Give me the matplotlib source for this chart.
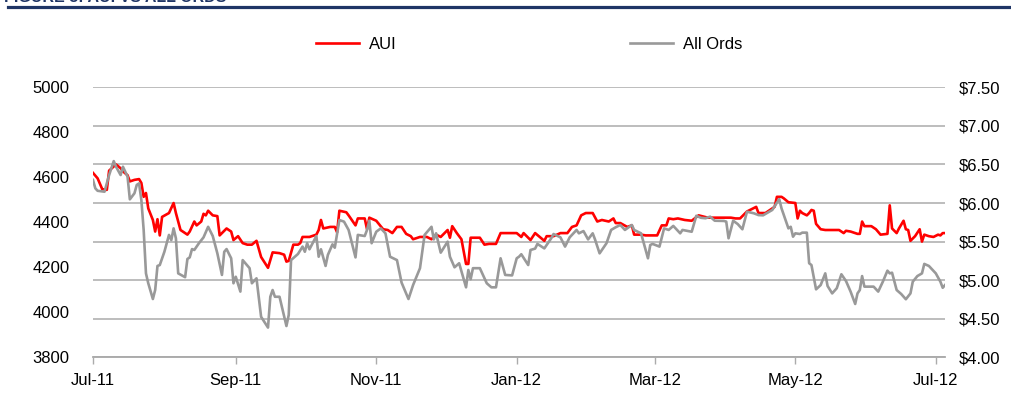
"""
AUI share price vs All Ordinaries index, Jul-11 to Jul-12
"""

import numpy as np
import pandas as pd
import matplotlib
matplotlib.use('Agg')
import matplotlib.pyplot as plt
import matplotlib.dates as mdates
from matplotlib.lines import Line2D
from matplotlib.ticker import FuncFormatter, MultipleLocator

plt.rcParams['font.family'] = ['Liberation Sans', 'DejaVu Sans']

START = pd.Timestamp('2011-07-01')

# AUI close ($), days counted from 1 Jul 2011
aui_day = [0, 2, 4, 6, 7, 10, 12, 13, 15, 16, 18, 20, 21, 22, 23, 24, 26, 27, 28, 29,
           30, 33, 35, 36, 38, 41, 42, 44, 45, 47, 48, 49, 50, 52, 54, 55, 58, 60, 61, 63,
           65, 67, 69, 71, 73, 76, 78, 81, 83, 84, 85, 87, 89, 90, 91, 94, 97, 98, 99, 100,
           103, 105, 106, 107, 110, 111, 114, 115, 118, 119, 120, 123, 126, 128, 130, 132, 134, 136, 138, 139,
           142, 145, 147, 149, 151, 154, 155, 156, 158, 160, 162, 163, 164, 168, 170, 172, 175, 177, 184, 186,
           187, 190, 192, 194, 196, 197, 200, 203, 206, 208, 210, 212, 214, 217, 219, 221, 224, 226, 227, 229,
           232, 234, 235, 238, 240, 245, 247, 249, 250, 252, 254, 257, 260, 263, 267, 277, 279, 281, 284, 286,
           288, 289, 292, 295, 296, 297, 299, 300, 302, 305, 306, 307, 308, 310, 311, 312, 313, 314, 316, 318,
           324, 326, 327, 329, 332, 333, 334, 335, 338, 340, 342, 345, 346, 347, 349, 350, 352, 353, 354, 355,
           357, 359, 360, 361, 363, 365, 367, 368, 369, 370]
aui_price = [6.39, 6.32, 6.18, 6.17, 6.42, 6.50, 6.45, 6.41, 6.36, 6.28, 6.30, 6.31, 6.26, 6.08, 6.13, 5.93, 5.78, 5.63, 5.79, 5.58,
             5.82, 5.87, 6.00, 5.87, 5.65, 5.59, 5.63, 5.76, 5.71, 5.76, 5.86, 5.84, 5.90, 5.84, 5.83, 5.58, 5.67, 5.63, 5.52, 5.57,
             5.48, 5.46, 5.46, 5.51, 5.30, 5.16, 5.36, 5.35, 5.33, 5.24, 5.25, 5.46, 5.46, 5.48, 5.56, 5.56, 5.59, 5.65, 5.78, 5.67,
             5.69, 5.69, 5.62, 5.90, 5.88, 5.84, 5.71, 5.80, 5.80, 5.66, 5.81, 5.77, 5.66, 5.65, 5.61, 5.69, 5.69, 5.60, 5.57, 5.53,
             5.56, 5.56, 5.53, 5.59, 5.56, 5.65, 5.55, 5.70, 5.61, 5.53, 5.21, 5.21, 5.55, 5.55, 5.46, 5.47, 5.47, 5.61, 5.61, 5.56,
             5.61, 5.52, 5.61, 5.56, 5.51, 5.57, 5.57, 5.61, 5.61, 5.69, 5.71, 5.84, 5.87, 5.87, 5.76, 5.78, 5.76, 5.80, 5.74, 5.74,
             5.69, 5.71, 5.59, 5.59, 5.58, 5.58, 5.71, 5.71, 5.80, 5.79, 5.80, 5.78, 5.77, 5.84, 5.81, 5.81, 5.80, 5.80, 5.89, 5.92,
             5.95, 5.87, 5.87, 5.93, 5.95, 6.08, 6.08, 6.06, 6.01, 6.00, 5.80, 5.90, 5.87, 5.84, 5.87, 5.91, 5.90, 5.73, 5.66, 5.65,
             5.65, 5.61, 5.64, 5.63, 5.60, 5.60, 5.76, 5.70, 5.70, 5.66, 5.59, 5.60, 5.97, 5.67, 5.61, 5.67, 5.77, 5.66, 5.65, 5.51,
             5.57, 5.66, 5.50, 5.59, 5.57, 5.56, 5.59, 5.58, 5.61, 5.61]

# All Ordinaries index, days counted from 1 Jul 2011
ords_day = [0, 1, 2, 5, 7, 9, 10, 12, 13, 15, 16, 18, 19, 20, 21, 22, 23, 24, 26, 27,
            28, 29, 31, 33, 34, 35, 36, 37, 40, 41, 42, 43, 44, 46, 48, 50, 52, 54, 56, 57,
            58, 60, 61, 62, 64, 65, 68, 69, 71, 73, 76, 77, 78, 79, 81, 84, 85, 86, 89, 91,
            92, 93, 94, 97, 98, 99, 101, 102, 104, 105, 107, 109, 111, 114, 115, 118, 119, 120, 121, 123,
            125, 127, 129, 132, 134, 137, 139, 142, 144, 147, 148, 149, 151, 154, 155, 157, 159, 162, 163, 164,
            165, 168, 171, 173, 175, 177, 179, 182, 184, 185, 186, 189, 190, 192, 193, 196, 197, 199, 200, 203,
            205, 207, 208, 210, 211, 213, 215, 217, 218, 220, 223, 225, 227, 229, 231, 234, 235, 238, 241, 242,
            243, 246, 248, 250, 252, 255, 256, 260, 262, 264, 266, 268, 270, 274, 275, 276, 278, 280, 282, 284,
            287, 289, 291, 292, 295, 298, 299, 302, 303, 304, 305, 307, 308, 310, 311, 312, 314, 316, 318, 319,
            321, 323, 325, 327, 329, 331, 332, 333, 334, 335, 339, 341, 343, 345, 346, 347, 349, 351, 353, 355,
            356, 358, 360, 361, 363, 366, 368, 369, 370]
ords_index = [4588, 4551, 4540, 4536, 4610, 4672, 4647, 4610, 4647, 4603, 4502, 4529, 4566, 4573, 4499, 4366, 4173, 4129, 4059, 4099,
              4206, 4210, 4269, 4344, 4321, 4373, 4329, 4173, 4156, 4237, 4244, 4281, 4277, 4307, 4333, 4380, 4339, 4262, 4166, 4269,
              4281, 4240, 4129, 4158, 4092, 4232, 4196, 4129, 4151, 3980, 3932, 4069, 4099, 4069, 4069, 3939, 3988, 4232, 4259, 4292,
              4269, 4307, 4280, 4339, 4247, 4280, 4206, 4255, 4302, 4287, 4410, 4403, 4366, 4244, 4344, 4339, 4366, 4407, 4307, 4358,
              4373, 4351, 4247, 4232, 4132, 4059, 4121, 4196, 4344, 4380, 4324, 4351, 4265, 4314, 4247, 4200, 4218, 4111, 4188, 4147,
              4196, 4196, 4129, 4111, 4111, 4240, 4166, 4164, 4240, 4247, 4258, 4210, 4277, 4283, 4304, 4284, 4299, 4329, 4348, 4333,
              4292, 4333, 4344, 4366, 4351, 4361, 4324, 4351, 4324, 4262, 4307, 4366, 4378, 4388, 4366, 4388, 4366, 4351, 4240, 4299,
              4304, 4292, 4373, 4366, 4384, 4351, 4366, 4358, 4429, 4420, 4418, 4425, 4407, 4406, 4403, 4329, 4407, 4392, 4369, 4447,
              4440, 4432, 4431, 4437, 4455, 4503, 4462, 4373, 4380, 4336, 4351, 4348, 4354, 4354, 4218, 4210, 4102, 4121, 4173, 4117,
              4084, 4107, 4169, 4139, 4092, 4037, 4084, 4099, 4161, 4114, 4114, 4092, 4136, 4185, 4173, 4176, 4099, 4081, 4058, 4084,
              4136, 4161, 4173, 4215, 4206, 4173, 4136, 4109, 4121]

aui_dates = START + pd.to_timedelta(aui_day, unit='D')
ords_dates = START + pd.to_timedelta(ords_day, unit='D')

RED = '#FF0000'
GREY = '#999999'
GRID = '#ABABAB'
NAVY = '#1F3566'

fig = plt.figure(figsize=(10.12, 4.01), dpi=100)
ax = fig.add_axes([0.0919, 0.109, 0.8419, 0.6733])
ax2 = ax.twinx()

# AUI on the right axis (drawn underneath), All Ords on the left axis on top
ax2.plot(aui_dates, aui_price, color=RED, lw=1.9, solid_joinstyle='round')
ax.plot(ords_dates, ords_index, color=GREY, lw=1.9, solid_joinstyle='round')
ax.set_zorder(ax2.get_zorder() + 1)
ax.patch.set_visible(False)

ax.set_ylim(3800, 5000)
ax.yaxis.set_major_locator(MultipleLocator(200))
ax2.set_ylim(4.0, 7.5)
ax2.yaxis.set_major_locator(MultipleLocator(0.5))
ax2.yaxis.set_major_formatter(FuncFormatter(lambda v, p: f'${v:.2f}'))

ax.set_xlim(START, START + pd.Timedelta(days=370))
ax.xaxis.set_major_locator(mdates.MonthLocator(bymonth=[1, 3, 5, 7, 9, 11]))
ax.xaxis.set_major_formatter(mdates.DateFormatter('%b-%y'))

# gridlines live on the lower axes so the red line sits over them
ax2.grid(axis='y', color=GRID, lw=1.1)
ax2.set_axisbelow(True)

for a in (ax, ax2):
    for side in ('top', 'left', 'right'):
        a.spines[side].set_visible(False)
    a.spines['bottom'].set_color(GRID)
    a.spines['bottom'].set_linewidth(1.1)

ax.tick_params(axis='y', length=0, pad=17, labelsize=12)
ax2.tick_params(axis='y', length=0, pad=10, labelsize=12)
ax.tick_params(axis='x', length=5, width=1, color=GRID, pad=6, labelsize=12)
ax2.tick_params(axis='x', length=0)

handles = [Line2D([], [], color=RED, lw=1.9), Line2D([], [], color=GREY, lw=1.9)]
fig.legend(handles, ['AUI', 'All Ords'], loc='center', bbox_to_anchor=(0.523, 0.89),
           ncol=2, frameon=False, fontsize=12, handlelength=2.6, handletextpad=0.6,
           columnspacing=14.0)

# header band (title is clipped at the top of the image)
fig.text(0.004, 1 - 1.5 / 401, 'FIGURE 3: AUI VS ALL ORDS', color=NAVY, fontsize=11.5,
         fontweight='bold', va='baseline', ha='left')
fig.add_artist(Line2D([8 / 1012, 1.0], [1 - 7 / 401] * 2, color=NAVY, lw=2.3,
                      transform=fig.transFigure))

fig.savefig('out.png', dpi=100)
print('saved out.png')
